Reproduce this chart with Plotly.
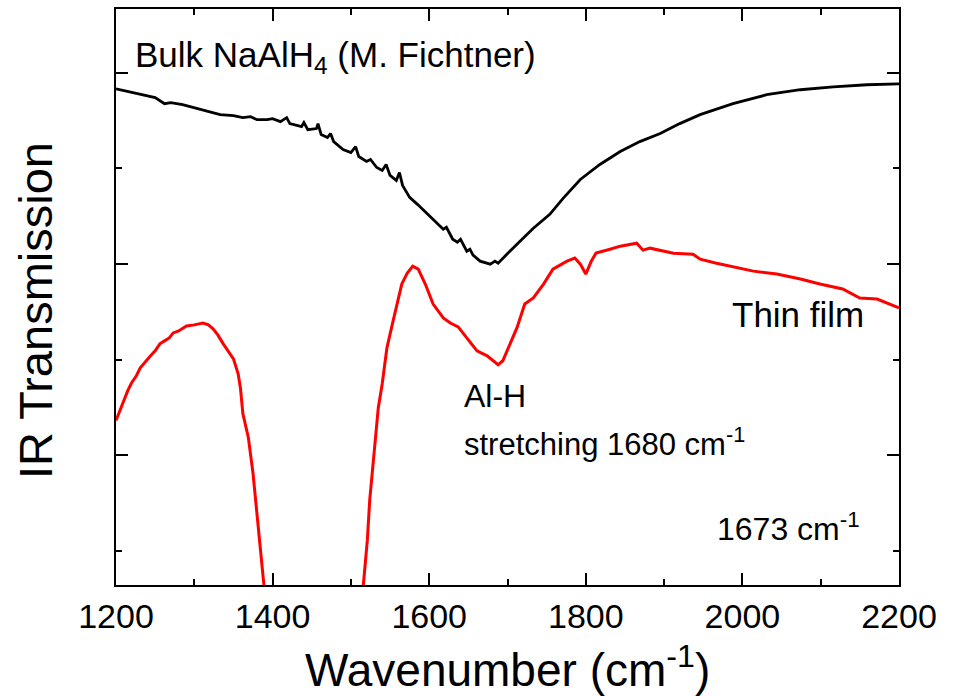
import plotly.graph_objects as go

# ---- data (wavenumber in cm^-1, transmission in arbitrary units) ----
bulk_wn = [1200, 1230, 1250, 1262, 1270, 1285, 1303, 1333, 1350, 1362, 1372, 1380, 1393, 1400,
           1410, 1418, 1422, 1437, 1440, 1445, 1456, 1458, 1462, 1470, 1474, 1478, 1490, 1500,
           1506, 1510, 1520, 1525, 1533, 1540, 1545, 1550, 1558, 1562, 1566, 1575, 1585, 1601,
           1618, 1622, 1630, 1636, 1640, 1648, 1652, 1656, 1665, 1678, 1684, 1688, 1695, 1703,
           1716, 1733, 1754, 1771, 1793, 1818, 1844, 1869, 1895, 1920, 1946, 1988, 2031, 2074,
           2116, 2159, 2200]
bulk_tr = [4.833, 4.781, 4.740, 4.677, 4.688, 4.667, 4.625, 4.563, 4.552, 4.531, 4.542, 4.510,
           4.510, 4.521, 4.490, 4.531, 4.469, 4.438, 4.479, 4.406, 4.417, 4.469, 4.354, 4.323,
           4.365, 4.281, 4.198, 4.167, 4.229, 4.125, 4.073, 4.094, 4.010, 3.979, 4.042, 3.927,
           3.875, 3.958, 3.823, 3.698, 3.625, 3.500, 3.365, 3.385, 3.260, 3.229, 3.260, 3.135,
           3.156, 3.094, 3.031, 3.000, 3.031, 3.010, 3.073, 3.135, 3.240, 3.375, 3.521, 3.688,
           3.885, 4.042, 4.177, 4.281, 4.365, 4.469, 4.563, 4.677, 4.771, 4.823, 4.854, 4.875,
           4.885]

film_wn = [1200, 1205, 1209, 1215, 1220, 1226, 1231, 1237, 1243, 1250, 1256, 1262, 1268, 1273,
           1280, 1290, 1300, 1311, 1318, 1324, 1330, 1337, 1343, 1350, 1356, 1359, 1362, 1369,
           1375, 1381, 1388, 1392, None,
           1511, 1516, 1521, 1524, 1531, 1535, 1540, 1546, 1553, 1559, 1565, 1572, 1579, 1586,
           1595, 1605, 1618, 1627, 1637, 1648, 1661, 1674, 1682, 1688, 1694, 1703, 1712, 1722,
           1733, 1746, 1758, 1776, 1786, 1793, 1800, 1807, 1813, 1831, 1844, 1865, 1873, 1882,
           1912, 1937, 1946, 1967, 1997, 2014, 2044, 2074, 2099, 2128, 2150, 2172, 2200]
film_tr = [1.365, 1.469, 1.573, 1.677, 1.760, 1.833, 1.917, 1.969, 2.031, 2.094, 2.167, 2.198,
           2.229, 2.281, 2.302, 2.354, 2.365, 2.385, 2.365, 2.323, 2.260, 2.167, 2.094, 2.010,
           1.854, 1.700, 1.438, 1.188, 0.813, 0.292, -0.333, -0.615, None,
           -0.800, -0.333, 0.115, 0.531, 1.156, 1.500, 1.750, 2.125, 2.375, 2.583, 2.792, 2.906,
           2.979, 2.948, 2.792, 2.583, 2.438, 2.385, 2.344, 2.229, 2.094, 2.042, 1.990, 1.948,
           1.990, 2.167, 2.333, 2.583, 2.646, 2.792, 2.948, 3.031, 3.063, 3.000, 2.896, 3.031,
           3.115, 3.156, 3.188, 3.219, 3.146, 3.167, 3.115, 3.104, 3.052, 3.010, 2.958, 2.927,
           2.896, 2.844, 2.792, 2.740, 2.646, 2.635, 2.542]

x_ticks = [1200, 1400, 1600, 1800, 2000, 2200]

FONT = "Liberation Sans, Arial, Helvetica, sans-serif"

fig = go.Figure()
fig.add_trace(go.Scatter(x=bulk_wn, y=bulk_tr, mode="lines",
                         line=dict(color="black", width=2.8), showlegend=False))
fig.add_trace(go.Scatter(x=film_wn, y=film_tr, mode="lines", connectgaps=False,
                         line=dict(color="#ff0000", width=3), showlegend=False))

axis_common = dict(showline=True, linecolor="black", linewidth=2, mirror="allticks",
                   ticks="inside", ticklen=12, tickwidth=2, tickcolor="black",
                   showgrid=False, zeroline=False)

fig.update_xaxes(range=[1200, 2200], tickvals=x_ticks, ticktext=[str(v) for v in x_ticks],
                 tickfont=dict(family=FONT, size=34, color="black"),
                 minor=dict(dtick=100, tick0=1200, ticks="inside", ticklen=6, tickwidth=2,
                            tickcolor="black", showgrid=False),
                 **axis_common)
fig.update_yaxes(range=[-0.354, 5.667], tick0=1, dtick=2, showticklabels=False,
                 minor=dict(dtick=1, tick0=0, ticks="inside", ticklen=6, tickwidth=2,
                            tickcolor="black", showgrid=False),
                 **axis_common)

ann_font = dict(family=FONT, color="black")
annotations = [
    dict(x=1221.7, y=5.167, text="Bulk NaAlH<sub>4</sub> (M. Fichtner)", size=35),
    dict(x=1984.2, y=2.469, text="Thin film", size=35),
    dict(x=1641.9, y=1.625, text="Al-H", size=32),
    dict(x=1641.9, y=1.146, text="stretching 1680 cm<sup>-1</sup>", size=31),
    dict(x=1965.0, y=0.250, text="1673 cm<sup>-1</sup>", size=32),
]
for a in annotations:
    fig.add_annotation(x=a["x"], y=a["y"], xref="x", yref="y", text=a["text"],
                       showarrow=False, xanchor="left", yanchor="middle",
                       font=dict(size=a["size"], **ann_font))

# axis titles
fig.add_annotation(x=0.5, y=-0.142, xref="paper", yref="paper",
                   text="Wavenumber (cm<sup>-1</sup>)", showarrow=False,
                   xanchor="center", yanchor="middle",
                   font=dict(size=46, **ann_font))
fig.add_annotation(x=-0.102, y=0.476, xref="paper", yref="paper",
                   text="IR Transmission", showarrow=False, textangle=-90,
                   xanchor="center", yanchor="middle",
                   font=dict(size=47, **ann_font))

fig.update_layout(width=960, height=697, margin=dict(l=116, r=61, t=7, b=112),
                  paper_bgcolor="white", plot_bgcolor="white",
                  font=dict(family=FONT, color="black"))

fig.write_html("out.html")
